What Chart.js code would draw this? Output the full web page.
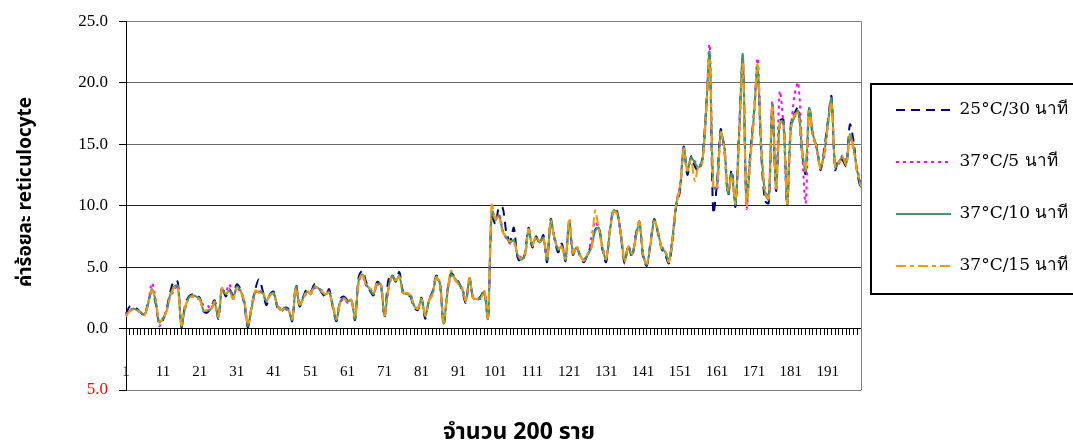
<!DOCTYPE html>
<html lang="th">
<head>
<meta charset="UTF-8">
<title>ค่าร้อยละ reticulocyte</title>
<style>
  body { margin: 0; background: #fff; }
  #wrap { width: 1073px; height: 446px; position: relative; }
</style>
</head>
<body>
<div id="wrap"><canvas id="retChart"></canvas></div>
<script src="https://cdn.jsdelivr.net/npm/chart.js"></script>
<script>
// categories: case no. 1..200
const caseNumbers = Array.from({ length: 200 }, (_, i) => String(i + 1));
const xTickLabels = ['1', '11', '21', '31', '41', '51', '61', '71', '81', '91',
  '101', '111', '121', '131', '141', '151', '161', '171', '181', '191'];
const seriesNames = ['25°C/30 นาที', '37°C/5 นาที', '37°C/10 นาที', '37°C/15 นาที'];

const temp25min30 = [
  1.2,1.8,1.8,1.6,1.3,1.0,2.2,3.0,2.1,0.4, 0.7,1.6,3.0,3.9,3.8,0.1,1.9,2.6,2.8,2.7,
  2.5,1.4,1.3,1.7,2.3,0.8,3.4,2.6,3.2,2.7, 3.6,3.2,2.0,0.1,1.8,3.2,4.0,3.1,1.9,2.8,
  3.0,1.7,1.4,1.7,1.6,0.6,3.6,1.8,2.6,3.2, 3.0,3.6,3.4,2.9,2.6,3.2,1.7,0.6,2.4,2.6,
  2.3,2.4,0.7,4.2,4.7,3.8,3.1,2.7,3.8,3.5, 0.9,3.9,4.4,3.8,4.6,3.0,2.7,2.6,1.7,1.5,
  2.5,0.8,2.3,3.0,4.3,3.6,0.3,3.0,4.5,4.2, 3.8,3.1,2.1,4.1,2.4,2.3,2.6,3.1,0.7,9.3,
  8.5,9.9,9.8,7.8,7.1,8.2,5.8,5.4,6.1,8.2, 6.6,7.5,6.9,7.6,5.4,8.9,7.3,6.2,6.9,5.5,
  8.8,6.0,6.7,5.8,5.4,6.1,6.8,8.0,8.3,6.4, 5.4,8.0,9.7,9.5,7.5,5.3,6.8,5.8,7.6,8.7,
  5.8,5.1,7.0,8.9,7.8,6.5,6.0,5.3,7.2,10.0, 11.2,14.8,12.5,14.0,13.2,12.8,13.8,17.6,22.0,9.4,
  11.8,16.2,14.5,10.8,12.9,9.9,16.2,21.8,10.4,14.2, 17.5,21.0,14.2,10.4,10.2,18.0,11.2,16.9,17.0,10.0,
  16.6,17.5,18.0,14.4,12.6,18.1,15.5,14.9,12.9,14.5, 16.8,18.9,12.9,13.8,13.7,13.2,16.6,15.2,12.6,11.3
];
const temp37min5 = [
  1.1,1.5,1.6,1.5,1.2,1.2,2.1,3.7,2.4,0.2, 0.9,1.5,2.7,3.0,3.6,0.3,1.6,2.5,2.6,2.4,
  2.4,1.9,1.9,1.6,2.0,1.0,3.1,3.0,3.6,2.4, 3.3,3.0,2.3,0.3,1.6,2.9,3.1,2.8,2.3,2.7,
  2.8,1.9,1.6,1.6,1.4,0.8,3.3,2.0,2.4,2.9, 2.8,3.3,3.2,3.1,2.8,2.9,1.9,0.8,2.1,2.4,
  2.1,2.3,0.9,3.8,4.3,3.5,3.3,2.9,3.5,3.7, 1.1,3.0,4.2,4.0,4.2,2.8,2.9,2.8,1.9,1.7,
  2.3,1.1,2.2,2.8,4.0,3.8,0.5,2.8,4.3,4.0, 3.6,3.3,2.4,3.9,2.6,2.5,2.4,2.9,0.9,9.7,
  9.0,9.3,8.0,7.3,6.9,7.0,6.1,5.8,5.9,7.9, 6.9,7.3,7.1,7.3,5.7,8.6,7.5,6.5,6.6,5.8,
  8.6,6.3,6.5,6.0,5.7,5.9,7.4,8.7,8.1,6.7, 5.7,7.8,9.5,9.3,7.7,5.6,6.5,6.1,7.3,8.5,
  6.1,5.3,6.7,8.7,8.0,6.7,6.3,5.6,7.6,10.3, 11.6,14.6,13.0,13.8,13.6,13.3,13.5,17.0,23.1,11.8,
  11.2,15.8,14.9,11.2,12.3,10.3,15.5,22.0,9.8,13.6, 17.0,22.0,15.0,11.3,10.7,18.5,11.8,19.3,16.5,10.3,
  16.0,19.0,20.0,14.9,10.2,17.6,16.0,14.5,13.3,13.9, 16.4,18.5,13.3,13.4,14.1,13.6,15.5,14.5,13.0,11.7
];
const temp37min10 = [
  1.0,1.45,1.6,1.5,1.3,1.1,2.0,3.2,2.3,0.5, 0.8,1.45,2.8,3.4,3.5,0.2,1.7,2.5,2.7,2.6,
  2.4,1.45,1.45,1.6,2.1,0.9,3.2,2.8,3.1,2.5, 3.4,3.1,2.2,0.2,1.65,3.0,3.0,2.9,2.2,2.75,
  2.9,1.8,1.5,1.65,1.5,0.7,3.4,1.9,2.5,3.0, 2.9,3.4,3.3,3.0,2.75,3.0,1.8,0.7,2.2,2.5,
  2.2,2.35,0.8,3.9,4.4,3.6,3.2,2.8,3.6,3.6, 1.0,3.2,4.3,3.9,4.3,2.9,2.8,2.7,1.85,1.6,
  2.4,1.0,2.25,2.9,4.1,3.7,0.4,2.9,4.4,4.1, 3.7,3.2,2.25,4.0,2.5,2.4,2.5,3.0,0.8,9.5,
  8.8,9.2,7.9,7.4,7.0,7.2,6.0,5.6,6.0,8.0, 6.8,7.4,7.0,7.4,5.6,8.7,7.4,6.4,6.7,5.6,
  8.7,6.2,6.6,5.9,5.6,6.0,6.6,7.9,8.2,6.6, 5.6,7.9,9.6,9.4,7.6,5.5,6.6,6.0,7.4,8.6,
  6.0,5.2,6.8,8.8,7.9,6.6,6.2,5.5,7.5,10.2, 11.5,14.7,12.8,13.9,13.5,13.1,13.6,17.3,22.5,11.5,
  11.5,16.0,14.7,11.0,12.6,10.1,15.8,22.3,10.2,13.9, 17.3,21.3,14.7,11.0,10.5,18.3,11.5,16.6,16.8,10.1,
  16.3,17.2,17.7,14.7,12.8,17.9,15.8,14.7,13.1,14.2, 16.6,18.7,13.1,13.6,13.9,13.4,15.8,14.7,12.8,11.5
];
const temp37min15 = [
  1.0,1.4,1.5,1.5,1.3,1.1,1.9,3.1,2.4,0.6, 0.8,1.4,2.6,3.3,3.4,0.3,1.8,2.4,2.6,2.6,
  2.3,1.5,1.5,1.5,2.2,1.0,3.3,2.9,3.0,2.4, 3.3,3.0,2.3,0.3,1.7,3.1,2.9,3.0,2.3,2.7,
  2.8,1.9,1.5,1.6,1.5,0.8,3.3,2.0,2.4,3.1, 2.8,3.5,3.2,3.0,2.8,2.9,1.9,0.8,2.1,2.4,
  2.2,2.3,0.9,3.8,4.5,3.5,3.3,2.9,3.7,3.6, 1.1,3.1,4.2,3.9,4.2,2.9,2.9,2.7,1.9,1.6,
  2.4,1.1,2.2,2.8,4.2,3.6,0.5,2.9,4.7,4.0, 3.6,3.3,2.3,4.1,2.5,2.4,2.4,3.1,0.9,10.2,
  8.9,9.1,7.8,7.5,7.1,7.1,6.1,5.7,6.1,8.1, 6.7,7.5,7.1,7.3,5.7,8.8,7.3,6.5,6.6,5.7,
  9.0,6.1,6.7,5.9,5.5,6.1,6.5,9.6,8.1,6.5, 5.7,8.0,9.5,9.3,7.7,5.4,6.7,6.1,7.3,8.7,
  6.1,5.3,6.9,8.7,8.0,6.5,6.3,5.4,7.4,10.1, 11.4,14.6,12.9,13.7,12.0,13.2,13.4,17.5,22.0,11.6,
  11.4,15.9,14.6,11.2,12.4,10.2,15.6,21.5,10.0,13.7, 17.1,21.5,14.8,11.1,10.6,18.2,11.4,16.8,16.6,10.2,
  16.2,17.4,17.5,14.6,12.9,17.7,15.6,14.8,13.0,14.1, 16.4,18.4,13.2,13.5,14.0,13.3,15.7,14.6,12.7,11.6
];

const serif = "'Liberation Serif', 'DejaVu Serif', serif";
const wideSerif = "'DejaVu Serif', 'Liberation Serif', serif";
const thaiSans = "Tahoma, 'Noto Sans Thai', 'Noto Sans', 'DejaVu Sans', sans-serif";

// axis titles and frame bits Chart.js has no option for
const extras = {
  id: 'extras',
  beforeDatasetsDraw(chart) {
    const { ctx, chartArea } = chart;
    ctx.save();
    ctx.strokeStyle = '#808080';
    ctx.lineWidth = 1;
    ctx.beginPath();
    ctx.moveTo(Math.round(chartArea.right) + 0.5, chartArea.top);
    ctx.lineTo(Math.round(chartArea.right) + 0.5, chartArea.bottom);
    ctx.stroke();
    ctx.restore();
  },
  afterDraw(chart) {
    const { ctx } = chart;
    const boxes = chart.legend.legendHitBoxes;
    ctx.save();
    // legend frame
    if (boxes && boxes.length) {
      const first = boxes[0], last = boxes[boxes.length - 1];
      const left = first.left - 25, top = first.top - 17.5;
      ctx.strokeStyle = '#000';
      ctx.lineWidth = 2;
      ctx.strokeRect(left, top, chart.width + 5 - left, last.top + last.height + 19.5 - top);
    }
    ctx.fillStyle = '#000';
    ctx.font = "bold 23px " + thaiSans;
    ctx.textAlign = 'center';
    ctx.textBaseline = 'middle';
    ctx.fillText('จำนวน 200 ราย', 519, 434);
    ctx.translate(27, 192);
    ctx.rotate(-Math.PI / 2);
    ctx.font = "bold 19px " + thaiSans;
    ctx.fillText('ค่าร้อยละ reticulocyte', 0, 0);
    ctx.restore();
  }
};

new Chart(document.getElementById('retChart'), {
  type: 'line',
  data: {
    labels: caseNumbers,
    datasets: [
      { label: seriesNames[0], data: temp25min30, borderColor: '#000080', borderDash: [9, 6], order: 3 },
      { label: seriesNames[1], data: temp37min5, borderColor: '#FF00FF', borderDash: [3, 4], order: 2 },
      { label: seriesNames[2], data: temp37min10, borderColor: '#3A9A6A', order: 1 },
      { label: seriesNames[3], data: temp37min15, borderColor: '#FF9900', borderDash: [10, 4, 4, 4], order: 0 }
    ]
  },
  options: {
    responsive: true,
    maintainAspectRatio: false,
    animation: false,
    layout: { padding: { top: 15, right: 0, bottom: 56, left: 0 } },
    elements: {
      line: { borderWidth: 2, tension: 0.3, fill: false },
      point: { radius: 0, hoverRadius: 0 }
    },
    scales: {
      x: {
        type: 'category',
        position: { y: 0 },
        grid: { drawOnChartArea: false, drawTicks: true, tickLength: 6, tickColor: '#000' },
        border: { color: '#000', width: 1 },
        ticks: {
          autoSkip: false,
          maxRotation: 0,
          padding: 29,
          color: '#000',
          font: { family: serif, size: 15 },
          callback: function (value) {
            const label = this.getLabelForValue(value);
            return xTickLabels.includes(label) ? label : '';
          }
        }
      },
      y: {
        min: -5,
        max: 25,
        afterFit(scale) { scale.width = 126; },
        ticks: {
          stepSize: 5,
          padding: 11,
          font: { family: serif, size: 17 },
          color: (c) => (c.tick && c.tick.value < 0 ? '#FF0000' : '#000'),
          callback: (v) => Math.abs(v).toFixed(1)
        },
        grid: {
          tickLength: 7,
          tickColor: '#000',
          color: (c) => {
            const v = c.tick ? c.tick.value : 0;
            if (v === 25 || v === -5) return '#808080';
            if (v >= 15) return '#6a6a6a';
            return '#222';
          }
        },
        border: { color: '#000', width: 1 }
      }
    },
    plugins: {
      tooltip: { enabled: false },
      legend: {
        position: 'right',
        align: 'start',
        maxWidth: 212,
        title: { display: true, text: '', font: { size: 10, lineHeight: 1.2 }, padding: { top: 39.5, bottom: 0 } },
        labels: {
          usePointStyle: true,
          pointStyleWidth: 55,
          padding: 35,
          color: '#000',
          font: { family: wideSerif, size: 17 },
          // line samples follow each dataset's dash; trailing spaces keep the box full width
          generateLabels: (chart) => chart.data.datasets.map((ds, i) => ({
            text: ds.label + '\u00A0'.repeat(14),
            datasetIndex: i,
            fillStyle: ds.borderColor,
            strokeStyle: ds.borderColor,
            fontColor: '#000',
            lineWidth: 2,
            lineDash: ds.borderDash || [],
            pointStyle: 'line',
            hidden: false
          }))
        }
      }
    }
  },
  plugins: [extras]
});
</script>
</body>
</html>
